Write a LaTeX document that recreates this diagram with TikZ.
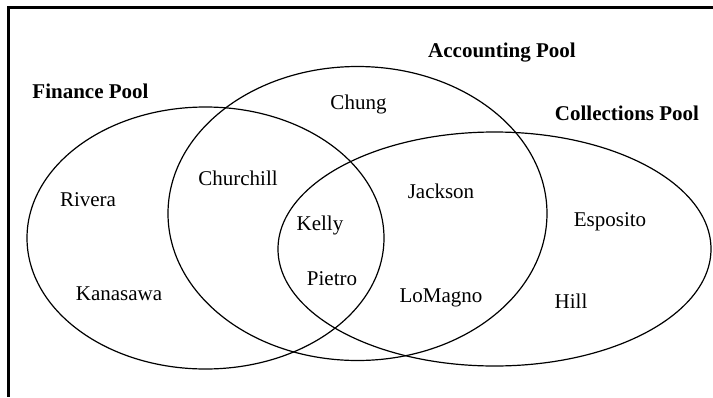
\documentclass[tikz,border=0pt]{standalone}
\usepackage{fontspec}
\setmainfont{Liberation Serif}
\begin{document}
\begin{tikzpicture}[x=1pt,y=-1pt,
  lbl/.style={anchor=base,inner sep=0pt,font=\fontsize{21}{25}\selectfont},
  pool/.style={lbl,font=\fontsize{21}{25}\selectfont\bfseries},
  ring/.style={line width=1.2pt},
  frameline/.style={line width=3pt}]
\useasboundingbox (0,0) rectangle (713,397);
% frame
\coordinate (ftr) at (713,7);
\coordinate (ftl) at (8.5,7);
\coordinate (fbl) at (8.5,397);
\draw[frameline] (ftr) -- (ftl) -- (fbl);
% sets
\draw[ring] (205.5,238) ellipse [x radius=178.5, y radius=131];
\draw[ring] (357.5,213.5) ellipse [x radius=189.5, y radius=147];
\draw[ring] (494.5,249) ellipse [x radius=216.5, y radius=117];
% pool titles
\node[pool] (fin) at (90.5,98) {Finance Pool};
\node[pool] (acc) at (502,57) {Accounting Pool};
\node[pool] (col) at (627,120) {Collections Pool};
% names
\node[lbl] (chung) at (358.5,109) {Chung};
\node[lbl] (churchill) at (238,185) {Churchill};
\node[lbl] (rivera) at (88,206) {Rivera};
\node[lbl] (kanasawa) at (119,300) {Kanasawa};
\node[lbl] (jackson) at (441,198) {Jackson};
\node[lbl] (kelly) at (320,230) {Kelly};
\node[lbl] (pietro) at (332,285) {Pietro};
\node[lbl] (lomagno) at (441,302) {LoMagno};
\node[lbl] (esposito) at (610,226) {Esposito};
\node[lbl] (hill) at (571,308) {Hill};
\end{tikzpicture}
\end{document}
